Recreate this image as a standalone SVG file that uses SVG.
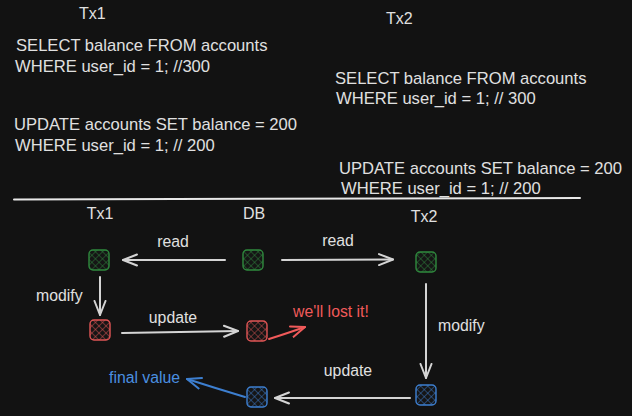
<svg xmlns="http://www.w3.org/2000/svg" width="632" height="416" viewBox="0 0 632 416">
<defs>
<style>
.t{font-family:"Liberation Sans",Arial,sans-serif;fill:#e0e0e0;font-size:16.6px}
.s{font-family:"Liberation Sans",Arial,sans-serif;fill:#e0e0e0;font-size:15.8px}
.h{font-family:"Liberation Sans",Arial,sans-serif;fill:#e0e0e0;font-size:16px}
.c{stroke:#d4d4d4;stroke-width:2;fill:none;stroke-linecap:round}
.n{stroke-width:1.4}
.g{stroke:#2f8a3e}
.r{stroke:#e05555}
.b{stroke:#3d7fd0}
</style>
<pattern id="hg" patternUnits="userSpaceOnUse" width="5" height="5" patternTransform="rotate(45)">
<rect width="5" height="5" fill="#151515"/><path d="M0,0V5M0,0H5" stroke="#2f8a3e" stroke-width="0.9"/>
</pattern>
<pattern id="hr" patternUnits="userSpaceOnUse" width="5" height="5" patternTransform="rotate(45)">
<rect width="5" height="5" fill="#151515"/><path d="M0,0V5M0,0H5" stroke="#e05555" stroke-width="0.9"/>
</pattern>
<pattern id="hb" patternUnits="userSpaceOnUse" width="5" height="5" patternTransform="rotate(45)">
<rect width="5" height="5" fill="#151515"/><path d="M0,0V5M0,0H5" stroke="#3d7fd0" stroke-width="0.9"/>
</pattern>
<marker id="aw" viewBox="0 0 16 14" refX="15" refY="7" markerWidth="16" markerHeight="14" markerUnits="userSpaceOnUse" orient="auto">
<path d="M1,1.5L15,7L1,12.5" fill="none" stroke="#d4d4d4" stroke-width="2" stroke-linecap="round" stroke-linejoin="round"/>
</marker>
<marker id="ar" viewBox="0 0 16 14" refX="15" refY="7" markerWidth="16" markerHeight="14" markerUnits="userSpaceOnUse" orient="auto">
<path d="M1,1.5L15,7L1,12.5" fill="none" stroke="#f05a5a" stroke-width="2" stroke-linecap="round" stroke-linejoin="round"/>
</marker>
<marker id="ab" viewBox="0 0 16 14" refX="15" refY="7" markerWidth="16" markerHeight="14" markerUnits="userSpaceOnUse" orient="auto">
<path d="M1,1.5L15,7L1,12.5" fill="none" stroke="#3d7fd0" stroke-width="2" stroke-linecap="round" stroke-linejoin="round"/>
</marker>
</defs>
<rect width="632" height="416" fill="#121212"/>

<g id="sql">
<text class="h" x="79" y="19">Tx1</text>
<text class="h" x="386" y="24">Tx2</text>
<text class="t" x="16" y="51">SELECT balance FROM accounts</text>
<text class="t" x="15" y="72">WHERE user_id = 1; //300</text>
<text class="t" x="335" y="84">SELECT balance FROM accounts</text>
<text class="t" x="336" y="104">WHERE user_id = 1; // 300</text>
<text class="t" x="14" y="130">UPDATE accounts SET balance = 200</text>
<text class="t" x="15" y="151">WHERE user_id = 1; // 200</text>
<text class="t" x="339" y="174">UPDATE accounts SET balance = 200</text>
<text class="t" x="341" y="194">WHERE user_id = 1; // 200</text>
</g>

<line x1="14" y1="199.5" x2="580" y2="198" stroke="#e8e8e8" stroke-width="2" stroke-linecap="round"/>

<g id="headers">
<text class="h" x="100" y="219" text-anchor="middle">Tx1</text>
<text class="h" x="254" y="219" text-anchor="middle">DB</text>
<text class="h" x="424" y="222" text-anchor="middle">Tx2</text>
</g>

<g id="tx1-read"><rect class="n g" x="89" y="250" width="20" height="20" rx="4" fill="url(#hg)"/></g>
<g id="db-read"><rect class="n g" x="243" y="250" width="20" height="20" rx="4" fill="url(#hg)"/></g>
<g id="tx2-read"><rect class="n g" x="416" y="252" width="20" height="20" rx="4" fill="url(#hg)"/></g>
<g id="tx1-mod"><rect class="n r" x="90" y="320" width="20" height="20" rx="4" fill="url(#hr)"/></g>
<g id="db-tx1"><rect class="n r" x="247" y="321" width="20" height="20" rx="4" fill="url(#hr)"/></g>
<g id="tx2-mod"><rect class="n b" x="416" y="385" width="20" height="20" rx="4" fill="url(#hb)"/></g>
<g id="db-tx2"><rect class="n b" x="247" y="387" width="20" height="20" rx="4" fill="url(#hb)"/></g>

<g id="connectors">
<line class="c" x1="225" y1="260" x2="123" y2="260" marker-end="url(#aw)"/>
<text class="s" x="173" y="247" text-anchor="middle">read</text>
<line class="c" x1="282" y1="260" x2="393" y2="259.5" marker-end="url(#aw)"/>
<text class="s" x="338" y="246" text-anchor="middle">read</text>
<line class="c" x1="100" y1="277" x2="100" y2="315" marker-end="url(#aw)"/>
<text class="s" x="36" y="301">modify</text>
<line class="c" x1="122" y1="333" x2="238" y2="331" marker-end="url(#aw)"/>
<text class="s" x="173" y="323" text-anchor="middle">update</text>
<path d="M269,339Q285,334 305,327" fill="none" stroke="#f05a5a" stroke-width="2" stroke-linecap="round" marker-end="url(#ar)"/>
<text x="293" y="317" style="font-family:'Liberation Sans',Arial,sans-serif;font-size:15.8px;fill:#f05a5a">we'll lost it!</text>
<line class="c" x1="426" y1="284" x2="426" y2="378" marker-end="url(#aw)"/>
<text class="s" x="438" y="331">modify</text>
<line class="c" x1="410" y1="398" x2="275" y2="398" marker-end="url(#aw)"/>
<text class="s" x="348" y="376" text-anchor="middle">update</text>
<path d="M245,397Q215,388 187,379" fill="none" stroke="#3d7fd0" stroke-width="2" stroke-linecap="round" marker-end="url(#ab)"/>
<text x="109" y="383" style="font-family:'Liberation Sans',Arial,sans-serif;font-size:15.8px;fill:#4a8fe0">final value</text>
</g>
</svg>
